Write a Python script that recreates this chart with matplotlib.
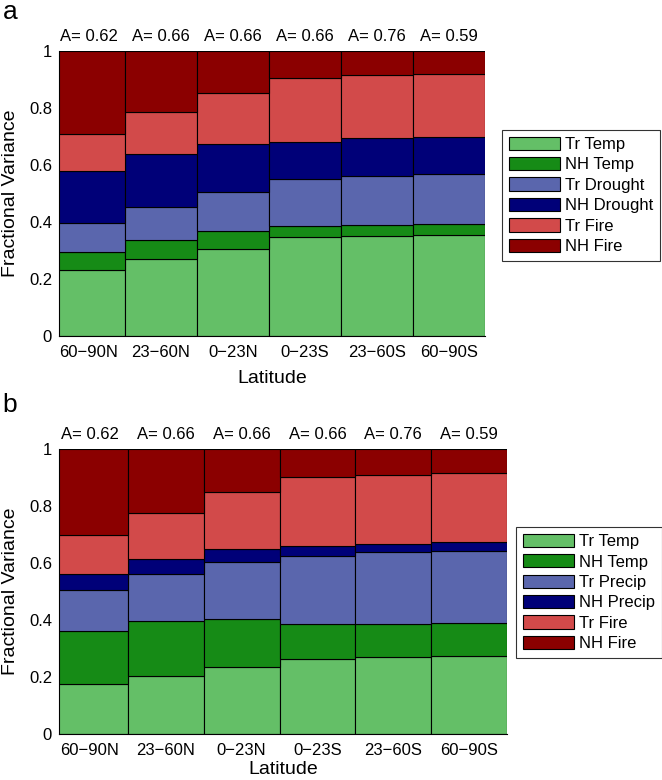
import matplotlib
matplotlib.use("Agg")
import matplotlib.pyplot as plt
import numpy as np

plt.rcParams['font.family'] = ['Liberation Sans', 'DejaVu Sans']

latitudes = ["60\u221290N", "23\u221260N", "0\u221223N", "0\u221223S", "23\u221260S", "60\u221290S"]
a_values = ["0.62", "0.66", "0.66", "0.66", "0.76", "0.59"]

labels_a = ["Tr Temp", "NH Temp", "Tr Drought", "NH Drought", "Tr Fire", "NH Fire"]
labels_b = ["Tr Temp", "NH Temp", "Tr Precip", "NH Precip", "Tr Fire", "NH Fire"]
colors = ["#64BF67", "#168B16", "#5A66AD", "#000078", "#D24A4A", "#8B0000"]

# panel a components
a_tr_temp = [0.231, 0.270, 0.307, 0.346, 0.352, 0.355]
a_nh_temp = [0.065, 0.066, 0.061, 0.041, 0.039, 0.039]
a_tr_drought = [0.099, 0.117, 0.137, 0.163, 0.172, 0.176]
a_nh_drought = [0.184, 0.184, 0.167, 0.131, 0.132, 0.129]
a_tr_fire = [0.129, 0.148, 0.182, 0.223, 0.220, 0.219]
a_nh_fire = [0.292, 0.215, 0.146, 0.096, 0.085, 0.082]

# panel b components
b_tr_temp = [0.175, 0.204, 0.235, 0.262, 0.270, 0.273]
b_nh_temp = [0.185, 0.193, 0.169, 0.124, 0.117, 0.118]
b_tr_precip = [0.145, 0.166, 0.199, 0.239, 0.250, 0.252]
b_nh_precip = [0.056, 0.051, 0.045, 0.034, 0.031, 0.031]
b_tr_fire = [0.138, 0.163, 0.200, 0.242, 0.242, 0.241]
b_nh_fire = [0.301, 0.223, 0.152, 0.099, 0.090, 0.085]

fig = plt.figure(figsize=(6.62, 7.8), dpi=100)


def panel(rect, series, labels, letter, letter_y, leg_anchor, xpad):
    ax = fig.add_axes(rect)
    x = np.arange(1, len(latitudes) + 1)
    bottom = np.zeros(len(x))
    handles = []
    for vals, lab, col in zip(series, labels, colors):
        h = ax.bar(x, vals, width=1.0, bottom=bottom, color=col,
                   edgecolor="black", linewidth=0.8, label=lab)
        handles.append(h)
        bottom = bottom + np.array(vals)
    ax.set_xlim(0.59, 6.5)
    ax.set_ylim(0, 1)
    ax.set_xticks(x)
    ax.set_xticklabels(latitudes, fontsize=12)
    ax.set_yticks([0, 0.2, 0.4, 0.6, 0.8, 1.0])
    ax.set_yticklabels(["0", "0.2", "0.4", "0.6", "0.8", "1"], fontsize=12)
    ax.tick_params(axis="x", length=0, pad=6.5)
    ax.tick_params(axis="y", length=0, pad=5)
    for s in ["top", "right"]:
        ax.spines[s].set_visible(False)
    ax.set_xlabel("Latitude", fontsize=14, labelpad=xpad)
    ax.set_ylabel("Fractional Variance", fontsize=14, labelpad=7)
    for xi, av in zip(x, a_values):
        ax.text(xi, 1.05, "A= " + av, ha="center", va="center", fontsize=12,
                clip_on=False)
    fig.text(0.004, letter_y, letter, fontsize=19, ha="left", va="center")
    leg = fig.legend(handles=handles, loc="upper left", bbox_to_anchor=leg_anchor,
                     fontsize=12, frameon=True, fancybox=False, edgecolor="black",
                     handlelength=3.1, handleheight=0.85, labelspacing=0.3,
                     handletextpad=0.3, borderpad=0.4, borderaxespad=0)
    leg.get_frame().set_linewidth(0.8)
    return ax


panel([0.0891, 0.5692, 0.6435, 0.3654],
      [a_tr_temp, a_nh_temp, a_tr_drought, a_nh_drought, a_tr_fire, a_nh_fire],
      labels_a, "a", 1 - 12 / 780, (502 / 662, 1 - 130 / 780), 7)
panel([0.0891, 0.0590, 0.6767, 0.3654],
      [b_tr_temp, b_nh_temp, b_tr_precip, b_nh_precip, b_tr_fire, b_nh_fire],
      labels_b, "b", 1 - 405 / 780, (516 / 662, 1 - 527 / 780), 2)

fig.savefig("out.png", dpi=100)
